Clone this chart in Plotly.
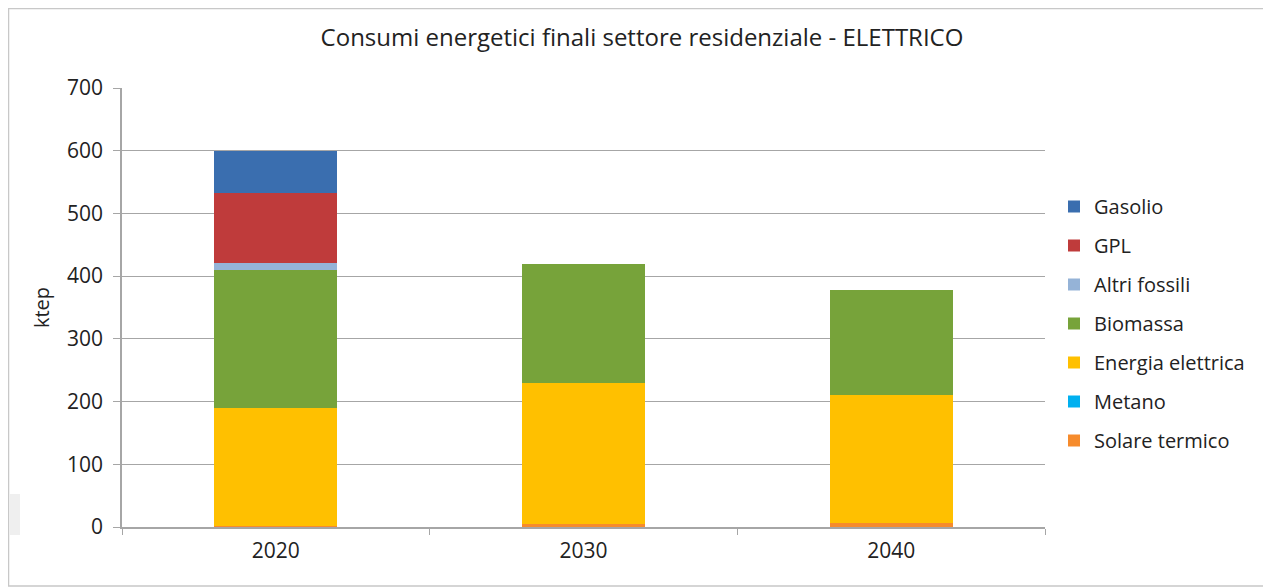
import plotly.graph_objects as go

years = ["2020", "2030", "2040"]
series_names = ["Solare termico", "Metano", "Energia elettrica", "Biomassa", "Altri fossili", "GPL", "Gasolio"]
solare_termico = [1, 4, 7]
metano = [0, 0, 0]
energia_elettrica = [189, 226, 204]
biomassa = [220, 190, 167]
altri_fossili = [11, 0, 0]
gpl = [112, 0, 0]
gasolio = [67, 0, 0]
values = [solare_termico, metano, energia_elettrica, biomassa, altri_fossili, gpl, gasolio]
colors = ["#F68B2C", "#00B0F0", "#FFC000", "#77A33A", "#95B3D7", "#BF3B3B", "#3A6EAF"]
y_ticks = [0, 100, 200, 300, 400, 500, 600, 700]

fig = go.Figure()
for i, (name, vals, col) in enumerate(zip(series_names, values, colors)):
    fig.add_trace(go.Bar(
        x=years, y=vals, name=name, marker=dict(color=col, line=dict(width=0)),
        legendgroup=name, legendrank=len(series_names) - i,
    ))

font = "Open Sans, Noto Sans, sans-serif"
W, H = 1263, 580
L, T, PW, PH = 114, 80, 923, 439
fig.update_layout(
    width=W, height=H,
    margin=dict(l=L, r=W - L - PW, t=T, b=H - T - PH),
    paper_bgcolor="white", plot_bgcolor="white",
    barmode="stack", bargap=0.6,
    font=dict(family=font, size=20, color="#222"),
    title=dict(text="Consumi energetici finali settore residenziale - ELETTRICO",
               x=634 / W, xref="container", xanchor="center",
               y=1 - 30 / H, yref="container", yanchor="middle",
               font=dict(family=font, size=24, color="#222")),
    legend=dict(x=(1054 - 8 - L) / PW, xanchor="left", y=(519 - 315.5) / PH, yanchor="middle",
                font=dict(family=font, size=20, color="#222"),
                tracegroupgap=10, bgcolor="rgba(0,0,0,0)"),
    showlegend=True,
)
fig.update_xaxes(
    showline=True, linecolor="#A6A6A6", linewidth=1.5,
    ticks="outside", tickson="boundaries", ticklen=6, tickcolor="#A6A6A6",
    showgrid=False, tickfont=dict(size=21, color="#222"), ticklabelstandoff=4,
)
fig.update_yaxes(
    range=[0, 700], tickvals=y_ticks, ticks="outside", ticklen=7, tickcolor="#A6A6A6",
    showline=True, linecolor="#A6A6A6", linewidth=1.5,
    showgrid=True, gridcolor="#A6A6A6", gridwidth=1, zeroline=False,
    tickfont=dict(size=21, color="#222"), ticklabelstandoff=6,
    title=dict(text="ktep", font=dict(size=20, color="#222"), standoff=12),
)
fig.add_shape(type="rect", xref="paper", yref="paper",
              x0=(0.5 - L) / PW, x1=(1262 - L) / PW,
              y0=(T + PH - 578) / PH, y1=(T + PH - 0.5) / PH,
              line=dict(color="#C8C8C8", width=1.5), fillcolor="rgba(0,0,0,0)", layer="below")
fig.add_shape(type="rect", xref="paper", yref="paper",
              x0=(1.5 - L) / PW, x1=(12 - L) / PW,
              y0=(T + PH - 527) / PH, y1=(T + PH - 486) / PH,
              line=dict(width=0), fillcolor="#EFEFEF", layer="below")

fig.write_html("out.html")
